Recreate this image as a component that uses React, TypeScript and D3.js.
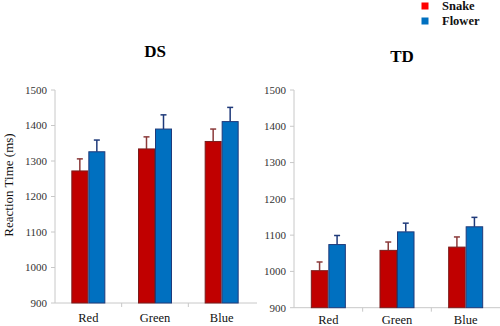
import React from "react";
import * as d3 from "d3";

const categories = ["Red", "Green", "Blue"];
const series = ["Snake", "Flower"];
const dsSnake = [1272, 1334, 1355];
const dsSnakeErr = [34, 34, 35];
const dsFlower = [1326, 1390, 1411];
const dsFlowerErr = [33, 40, 40];
const tdSnake = [1002, 1058, 1067];
const tdSnakeErr = [24, 23, 28];
const tdFlower = [1074, 1109, 1123];
const tdFlowerErr = [25, 24, 26];
const yTicks = [900, 1000, 1100, 1200, 1300, 1400, 1500];

const fills = ["#C00000", "#0070C0"];
const strokes = ["#7a1c1c", "#1f3a7a"];
const errColors = ["#8b3a3a", "#1f3a7a"];
const legendFills = ["#FF0000", "#0070C0"];

const serif = "Times New Roman, Liberation Serif, serif";

type PanelProps = {
  x0: number; x1: number; yTop: number; yBottom: number;
  title: string; titleX: number; titleY: number;
  vals: number[][]; errs: number[][]; axisExt: number; labelY: number;
};

function Panel({ x0, x1, yTop, yBottom, title, titleX, titleY, vals, errs, axisExt, labelY }: PanelProps) {
  const y = d3.scaleLinear().domain([900, 1500]).range([yBottom, yTop]);
  const x = d3.scaleBand().domain(categories).range([x0, x1]).paddingInner(0.49).paddingOuter(0.245);
  const xs = d3.scaleBand().domain(series).range([0, x.bandwidth()]);
  const outer = d3.scaleBand().domain(categories).range([x0, x1]);
  return (
    <g>
      <text x={titleX} y={titleY} textAnchor="middle" fontFamily={serif} fontWeight="bold" fontSize={17}>{title}</text>
      <line x1={x0} x2={x0} y1={yTop} y2={yBottom} stroke="#c8c8c8" />
      <line x1={x0} x2={x1 + axisExt} y1={yBottom} y2={yBottom} stroke="#c8c8c8" />
      {yTicks.map((t) => (
        <g key={t}>
          <line x1={x0 - 4} x2={x0} y1={y(t)} y2={y(t)} stroke="#c8c8c8" />
          <text x={x0 - 8} y={y(t)} dy="0.35em" textAnchor="end" fontFamily={serif} fontSize={11} fill="#333">{t}</text>
        </g>
      ))}
      {categories.slice(1).map((c) => (
        <line key={c} x1={outer(c)!} x2={outer(c)!} y1={yBottom} y2={yBottom + 4} stroke="#c8c8c8" />
      ))}
      {categories.map((c, i) => (
        <g key={c}>
          {series.map((s, j) => {
            const bx = x(c)! + xs(s)!;
            const bw = xs.bandwidth();
            const v = vals[j][i];
            const e = errs[j][i];
            const cx = bx + bw / 2;
            return (
              <g key={s}>
                <line x1={cx} x2={cx} y1={y(v)} y2={y(v + e)} stroke={errColors[j]} strokeWidth={1.5} />
                <line x1={cx - 3} x2={cx + 3} y1={y(v + e)} y2={y(v + e)} stroke={errColors[j]} strokeWidth={1.5} />
                <rect x={bx + 0.5} y={y(v)} width={bw - 1} height={yBottom - y(v)} fill={fills[j]} stroke={strokes[j]} strokeWidth={1} />
              </g>
            );
          })}
          <text x={x(c)! + x.bandwidth() / 2} y={labelY} textAnchor="middle" fontFamily={serif} fontSize={12.5} fill="#111">{c}</text>
        </g>
      ))}
    </g>
  );
}

export default function App() {
  return (
    <svg width={500} height={326} style={{ position: "absolute", left: 0, top: 0, background: "#fff" }}>
      <rect width={500} height={326} fill="#fff" />
      <Panel x0={55} x1={255} yTop={90} yBottom={303} title="DS" titleX={155} titleY={57}
        vals={[dsSnake, dsFlower]} errs={[dsSnakeErr, dsFlowerErr]} axisExt={2} labelY={322} />
      <Panel x0={294} x1={500} yTop={90} yBottom={307.7} title="TD" titleX={402} titleY={62}
        vals={[tdSnake, tdFlower]} errs={[tdSnakeErr, tdFlowerErr]} axisExt={0} labelY={324} />
      <text transform="translate(12.5,185) rotate(-90)" textAnchor="middle" fontFamily={serif} fontSize={13} fill="#111">Reaction Time  (ms)</text>
      {series.map((s, j) => (
        <g key={s}>
          <rect x={421.5} y={2.5 + j * 15} width={7} height={7} fill={legendFills[j]} />
          <text x={442} y={10 + j * 15} fontFamily={serif} fontWeight="bold" fontSize={12.5} fill="#111">{s}</text>
        </g>
      ))}
    </svg>
  );
}
